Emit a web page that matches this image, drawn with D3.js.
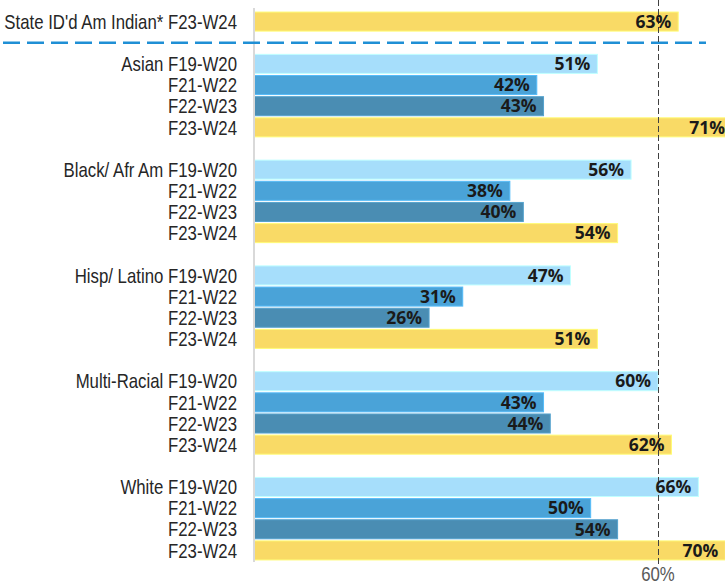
<!DOCTYPE html>
<html>
<head>
<meta charset="utf-8">
<script src="https://cdn.jsdelivr.net/npm/d3@7"></script>
<style>
  body { margin: 0; background: #fff; }
  .cat { font-family: "Liberation Sans", Arial, sans-serif; font-size: 20px; fill: #262626; }
  .val { font-family: "Open Sans", sans-serif; font-weight: 700; font-size: 17.5px; fill: #1a1a1a; }
</style>
</head>
<body>
<svg width="725" height="585"></svg>
<script>
// data
var groups = ["Asian", "Black/ Afr Am", "Hisp/ Latino", "Multi-Racial", "White"];
var terms = ["F19-W20", "F21-W22", "F22-W23", "F23-W24"];
var values = [
  [51, 42, 43, 71],
  [56, 38, 40, 54],
  [47, 31, 26, 51],
  [60, 43, 44, 62],
  [66, 50, 54, 70]
];
var stateLabel = "State ID'd Am Indian*";
var stateTerm = "F23-W24";
var stateValue = 63;
var target = 60;
var colors = ["#a6defb", "#4aa3d8", "#4a8db3", "#f9da66"];

var svg = d3.select("svg"),
    left = 254,
    narrow = 0.84; // squeeze labels to look like a condensed font

// build rows, with a blank row between blocks
var rows = [{key: "state", label: stateLabel + " " + stateTerm, value: stateValue, ci: 3}];
groups.forEach(function(g, gi) {
  rows.push({key: "blank" + gi, blank: true});
  terms.forEach(function(t, ti) {
    rows.push({key: g + t, label: (ti == 0 ? g + " " : "") + t, value: values[gi][ti], ci: ti});
  });
});

var x = d3.scaleLinear().domain([0, 60]).range([left, 658]);
var y = d3.scaleBand()
    .domain(rows.map(function(d) { return d.key; }))
    .range([11, 561])
    .paddingInner(0.1)
    .paddingOuter(0.05);

var data = rows.filter(function(d) { return !d.blank; });

// bars
svg.selectAll(".bar")
  .data(data)
  .enter().append("rect")
    .attr("class", "bar")
    .attr("x", x(0))
    .attr("y", function(d) { return y(d.key); })
    .attr("width", function(d) { return x(d.value) - x(0); })
    .attr("height", y.bandwidth())
    .attr("fill", function(d) { return colors[d.ci]; })
    .attr("stroke", function(d) { return d3.color(colors[d.ci]).brighter(0.4); })
    .attr("stroke-width", 1);

// axis line
svg.append("line")
    .attr("x1", left).attr("x2", left)
    .attr("y1", 8).attr("y2", 562)
    .attr("stroke", "#d9d9d9")
    .attr("stroke-width", 2);

// separator under the state row
var sepY = y(rows[1].key) + y.bandwidth() / 2;
svg.append("line")
    .attr("x1", 3).attr("x2", 706)
    .attr("y1", sepY).attr("y2", sepY)
    .attr("stroke", "#1f8fd5")
    .attr("stroke-width", 2.5)
    .attr("stroke-dasharray", "17,7");

// 60% target line (half pixel so it stays crisp)
svg.append("line")
    .attr("x1", x(target) + 0.5).attr("x2", x(target) + 0.5)
    .attr("y1", 0).attr("y2", 565)
    .attr("stroke", "#404040")
    .attr("stroke-width", 1)
    .attr("stroke-dasharray", "6,3");

svg.append("text")
    .attr("class", "cat")
    .attr("transform", "translate(" + x(target) + ",581) scale(" + narrow + ",1)")
    .attr("text-anchor", "middle")
    .style("fill", "#595959")
    .text(target + "%");

// category labels
svg.selectAll(".cat-label")
  .data(data)
  .enter().append("text")
    .attr("class", "cat")
    .attr("transform", function(d) {
      return "translate(237," + (y(d.key) + y.bandwidth() / 2) + ") scale(" + narrow + ",1)";
    })
    .attr("dy", "0.36em")
    .attr("text-anchor", "end")
    .text(function(d) { return d.label; });

// value labels
svg.selectAll(".val")
  .data(data)
  .enter().append("text")
    .attr("class", "val")
    .attr("x", function(d) { return x(d.value) - 7; })
    .attr("y", function(d) { return y(d.key) + y.bandwidth() / 2; })
    .attr("dy", "0.36em")
    .attr("text-anchor", "end")
    .text(function(d) { return d.value + "%"; });
</script>
</body>
</html>
